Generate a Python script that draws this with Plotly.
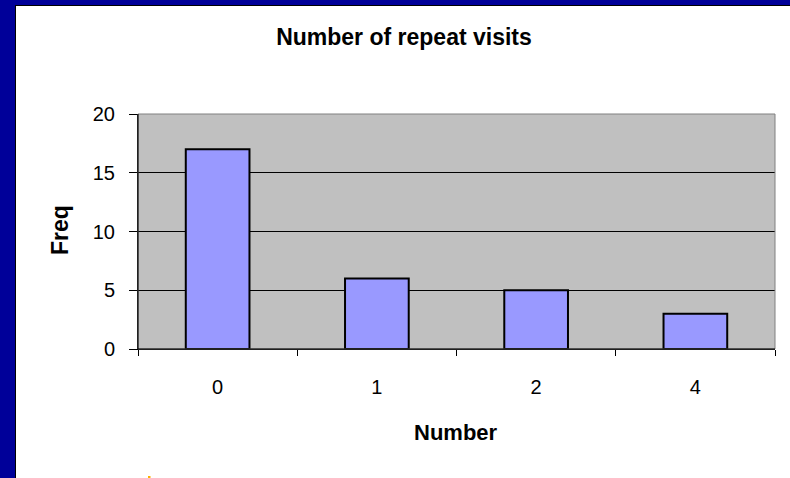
import plotly.graph_objects as go

categories = ["0", "1", "2", "4"]
freq = [17, 6, 5, 3]
y_ticks = [0, 5, 10, 15, 20]

W, H = 790, 478
L, R, T, B = 138, 15, 114, 129
pw, ph = W - L - R, H - T - B

def px_x(px):
    return (px - L) / pw

def px_y(py):
    return (H - B - py) / ph

fig = go.Figure()
fig.add_trace(go.Bar(
    x=categories, y=freq, width=0.4,
    marker=dict(color="#9999FF", line=dict(color="black", width=2)),
))

font = "Liberation Sans, Arial, sans-serif"
fig.update_layout(
    width=W, height=H,
    margin=dict(l=L, r=R, t=T, b=B, autoexpand=False),
    paper_bgcolor="white", plot_bgcolor="#C0C0C0",
    showlegend=False,
    font=dict(family=font, size=20, color="black"),
    title=dict(text="<b>Number of repeat visits</b>", font=dict(size=23),
               xref="container", x=404 / W, xanchor="center",
               yref="container", y=1 - 37 / H, yanchor="middle"),
    xaxis=dict(type="category", tickson="boundaries", ticks="outside",
               ticklen=6, tickcolor="black", showline=True, linecolor="black",
               linewidth=1, showgrid=False, tickfont=dict(size=20),
               automargin=False, ticklabelstandoff=20),
    yaxis=dict(range=[0, 20], tickvals=y_ticks, ticks="outside", ticklen=8,
               tickcolor="black", showline=True, linecolor="black", linewidth=1,
               showgrid=True, gridcolor="black", gridwidth=1, zeroline=False,
               tickfont=dict(size=20), automargin=False, ticklabelstandoff=10),
    annotations=[
        dict(text="<b>Freq</b>", textangle=-90, xref="paper", yref="paper",
             x=px_x(60), y=px_y(230), xanchor="center", yanchor="middle",
             showarrow=False, font=dict(size=23)),
        dict(text="<b>Number</b>", xref="paper", yref="paper",
             x=px_x(456), y=px_y(432), xanchor="center", yanchor="middle",
             showarrow=False, font=dict(size=22)),
    ],
    shapes=[
        dict(type="rect", xref="paper", yref="paper", x0=0, x1=1, y0=0, y1=1,
             line=dict(color="#808080", width=1), layer="above"),
        dict(type="rect", xref="paper", yref="paper", x0=px_x(0), x1=px_x(15),
             y0=px_y(0), y1=px_y(H), fillcolor="#000099", line=dict(width=0), layer="above"),
        dict(type="rect", xref="paper", yref="paper", x0=px_x(0), x1=px_x(W),
             y0=px_y(0), y1=px_y(5), fillcolor="#000099", line=dict(width=0), layer="above"),
        dict(type="line", xref="paper", yref="paper", x0=px_x(15.5), x1=px_x(15.5),
             y0=px_y(5), y1=px_y(H), line=dict(color="black", width=1), layer="above"),
        dict(type="line", xref="paper", yref="paper", x0=px_x(15), x1=px_x(W),
             y0=px_y(5.5), y1=px_y(5.5), line=dict(color="black", width=1), layer="above"),
        dict(type="line", xref="paper", yref="paper", x0=0, x1=0, y0=0, y1=1,
             line=dict(color="black", width=1), layer="above"),
        dict(type="line", xref="paper", yref="paper", x0=0, x1=1, y0=0, y1=0,
             line=dict(color="black", width=1), layer="above"),
        # small orange speck at the bottom edge of the reference
        dict(type="rect", xref="paper", yref="paper", x0=px_x(148), x1=px_x(150.5),
             y0=px_y(478), y1=px_y(476), fillcolor="#FFB000", line=dict(width=0), layer="above"),
    ],
)

fig.write_html("out.html", config={"displayModeBar": False},
               post_script="document.body.style.margin='0';document.body.style.overflow='hidden';")
